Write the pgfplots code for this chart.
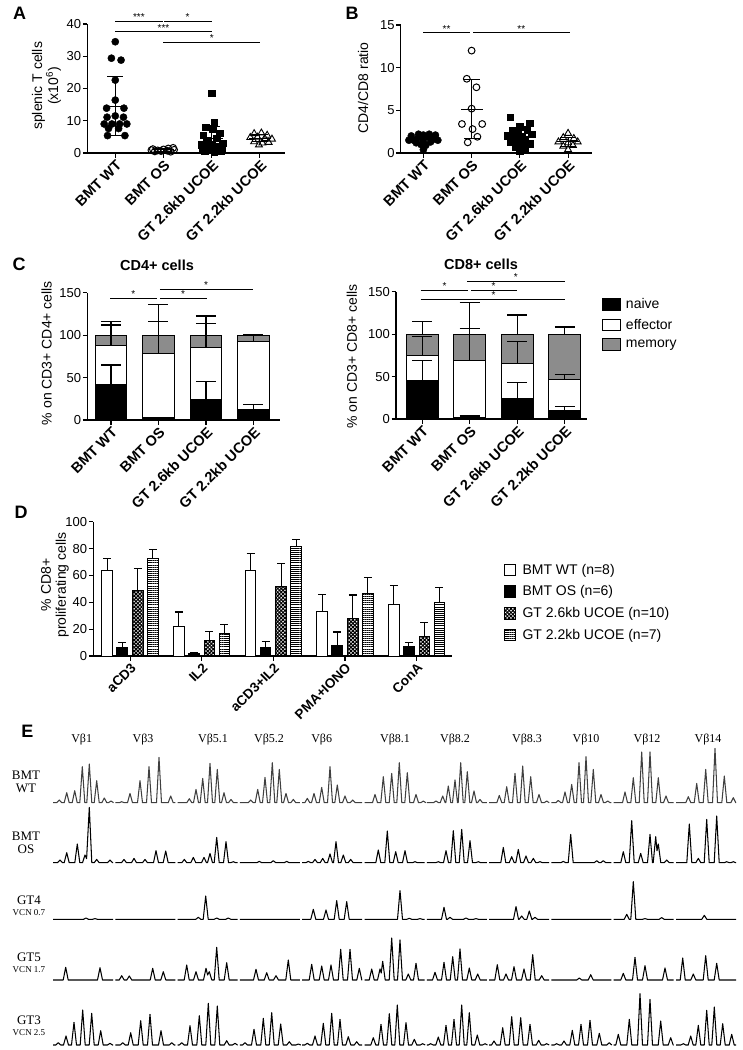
\documentclass[border=0pt]{standalone}
\usepackage{fontspec}
\setmainfont{Liberation Sans}
\newfontfamily\tnr{Liberation Serif}
\usepackage{pgfplots}
\pgfplotsset{compat=1.18}
\usetikzlibrary{patterns.meta}

\newcommand\myfs[1]{\fontsize{#1}{#1}\selectfont}
\definecolor{memgray}{gray}{0.55}

\pgfplotsset{
  gp/.style={
    scale only axis, anchor=south west, clip=false,
    axis x line*=bottom, axis y line*=left,
    axis line style={line width=1.1pt,-},
    every tick/.style={line width=1.1pt,black},
    tick align=outside, major tick length=4.5pt,
    /pgf/number format/assume math mode=true,
    yticklabel style={font=\myfs{13}, inner sep=1.5pt},
    xticklabel style={font=\bfseries\myfs{14.5}, rotate=45, anchor=north east, inner sep=1pt},
  },
  cats/.style={xtick={0,1,2,3}, xticklabels={BMT WT,BMT OS,GT 2.6kb UCOE,GT 2.2kb UCOE}},
  msd/.style={only marks, black, mark=-, mark size=11pt, mark options={line width=1.1pt},
    error bars/.cd, y dir=both, y explicit, error bar style={line width=1.1pt},
    error mark options={rotate=90, mark size=8pt, line width=1.1pt}},
  eb/.style={error bars/.cd, y dir=plus, y explicit, error bar style={line width=1.1pt, black},
    error mark options={rotate=90, mark size=#1, line width=1.1pt, black}},
  tr/.style={scale only axis, anchor=south west, hide axis, xmin=0, xmax=742, ymin=0, ymax=60,
    width=742pt, height=60pt, clip=false, unbounded coords=jump},
  trace/.style={black, line width=1.05pt, line join=round, mark=none},
}

\begin{document}
\begin{tikzpicture}
\path[use as bounding box] (0,0) rectangle (742pt,-1050pt);

% panel letters
\node[font=\bfseries\myfs{18}] at (19.5pt,-13pt) {A};
\node[font=\bfseries\myfs{18}] at (352pt,-13pt) {B};
\node[font=\bfseries\myfs{18}] at (19pt,-264pt) {C};
\node[font=\bfseries\myfs{18}] at (21pt,-512pt) {D};
\node[font=\bfseries\myfs{18}] at (27.5pt,-731pt) {E};

% ---------- A ----------
\begin{axis}[gp, cats, at={(87.3pt,-153pt)}, width=197.7pt, height=129pt,
  xmin=-0.58, xmax=3.52, ymin=0, ymax=40, ytick={0,10,20,30,40},
  ylabel={splenic T cells\\(x10\textsuperscript{6})},
  ylabel style={at={(axis description cs:-0.206,0.52)}, anchor=center, align=center, font=\fontsize{14}{14}\selectfont}]
\addplot[only marks, mark=*, mark size=3.6pt, black] coordinates {
 (0,34.5)(-0.08,29.4)(0.12,28.8)(0,22.6)(0,16.4)(-0.18,13.9)(0.18,13.9)(0,11.5)(-0.17,11.1)(0.17,11.1)
 (-0.23,9.0)(-0.07,9.0)(0.09,9.0)(0.24,9.0)(-0.14,7.6)(0.07,7.6)(-0.16,5.4)(0.2,5.4)};
\addplot[only marks, mark=o, mark size=3.4pt, black, mark options={line width=1pt}] coordinates {
 (0.78,1.2)(0.88,0.8)(1,1.1)(1.1,1.4)(1.2,1.6)(0.82,0.5)(0.95,0.6)(1.08,0.7)(1.22,1.0)(0.75,0.9)(1.15,0.4)};
\addplot[only marks, mark=square*, mark size=3.3pt, black] coordinates {
 (2,18.5)(2.05,9.5)(1.87,8)(2.02,7.5)(2.17,6.2)(1.82,5.5)(1.9,4)(2.1,4.6)(2.23,3)(1.78,2.6)(2,2.6)
 (2.15,2)(1.8,1.5)(1.95,1.1)(2.08,1.3)(2.22,1.5)(1.85,0.6)(2.05,0.3)(2.2,0.7)(1.92,2.0)};
\addplot[only marks, mark=triangle, mark size=4pt, black, mark options={line width=0.9pt}] coordinates {
 (2.88,6)(3.03,6.2)(3.15,5.5)(2.8,4.8)(2.95,4.9)(3.1,4.5)(3.25,4.3)(2.88,3.5)(3.05,3.1)(3.18,3.3)(2.98,2.5)};
\addplot[msd] coordinates {(0,14.5)+-(0,9.2) (1,1.0)+-(0,0.5) (2,4.4)+-(0,3.8) (3,4.6)+-(0,1.1)};
\draw[line width=1pt] (axis cs:0,40.9) -- (axis cs:0.98,40.9);
\draw[line width=1pt] (axis cs:1.02,40.9) -- (axis cs:2,40.9);
\draw[line width=1pt] (axis cs:0,37.6) -- (axis cs:2,37.6);
\draw[line width=1pt] (axis cs:1,34.4) -- (axis cs:3,34.4);
\node[font=\myfs{10}, anchor=south, inner sep=0.3pt] at (axis cs:0.49,40.9) {***};
\node[font=\myfs{10}, anchor=south, inner sep=0.3pt] at (axis cs:1.5,40.9) {*};
\node[font=\myfs{10}, anchor=south, inner sep=0.3pt] at (axis cs:1.0,37.6) {***};
\node[font=\myfs{10}, anchor=south, inner sep=0.3pt] at (axis cs:2.0,34.4) {*};
\end{axis}

% ---------- B ----------
\begin{axis}[gp, cats, at={(400.7pt,-153pt)}, width=191pt, height=128pt,
  xmin=-0.47, xmax=3.49, ymin=0, ymax=15, ytick={0,5,10,15},
  ylabel={CD4/CD8 ratio},
  ylabel style={at={(axis description cs:-0.197,0.51)}, anchor=center, font=\myfs{14}}]
\addplot[only marks, mark=*, mark size=3.6pt, black] coordinates {
 (-0.2,1.5)(-0.1,1.8)(0,2.1)(0.1,1.9)(0.2,1.6)(-0.15,1.2)(0,1.4)(0.15,1.3)(-0.25,2.0)(0.25,2.1)
 (-0.05,1.0)(0.05,0.9)(0,0.4)(-0.1,2.2)(0.12,2.2)(0.3,1.5)(-0.3,1.5)};
\addplot[only marks, mark=o, mark size=3.4pt, black, mark options={line width=1pt}] coordinates {
 (1,12)(0.9,8.7)(1.1,7.7)(1,5.2)(0.8,3.4)(1.22,3.4)(1.02,2.8)(1.12,1.9)(0.92,1.25)};
\addplot[only marks, mark=square*, mark size=3.3pt, black] coordinates {
 (1.8,4.2)(2.2,3.5)(2,3.1)(2.15,2.7)(1.85,2.6)(1.95,2.5)(2.25,2.2)(1.75,2.0)(2.05,1.9)(1.9,1.7)
 (2.1,1.5)(1.8,1.3)(2.2,1.1)(2,1.0)(1.9,0.7)(2.1,0.5)(2,0.3)};
\addplot[only marks, mark=triangle, mark size=4pt, black, mark options={line width=0.9pt}] coordinates {
 (3,2.3)(2.9,1.8)(3.12,1.7)(2.8,1.3)(3.2,1.3)(3,1.2)(2.9,0.8)(3.1,0.9)(3,0.4)};
\addplot[msd] coordinates {(0,1.55)+-(0,0.35) (1,5.15)+-(0,3.5) (2,1.95)+-(0,0.9) (3,1.3)+-(0,0.5)};
\draw[line width=1pt] (axis cs:0,14.1) -- (axis cs:0.97,14.1);
\draw[line width=1pt] (axis cs:1.03,14.1) -- (axis cs:3.03,14.1);
\node[font=\myfs{10}, anchor=south, inner sep=0.3pt] at (axis cs:0.48,14.1) {**};
\node[font=\myfs{10}, anchor=south, inner sep=0.3pt] at (axis cs:2.03,14.1) {**};
\end{axis}

% ---------- C left ----------
\node[font=\bfseries\myfs{14.5}] at (157pt,-265pt) {CD4+ cells};
\begin{axis}[gp, cats, at={(87.3pt,-420pt)}, width=192.7pt, height=127.3pt,
  xmin=-0.5, xmax=3.56, ymin=0, ymax=150, ytick={0,50,100,150},
  ybar, bar width=31.7pt,
  ylabel={\% on CD3+ CD4+ cells},
  ylabel style={at={(axis description cs:-0.211,0.526)}, anchor=center, font=\myfs{14}}]
\addplot[bar shift=0pt, fill=memgray, draw=black, line width=1pt, eb=10pt] coordinates {
 (0,100)+-(0,15.8) (1,100)+-(0,36) (2,100)+-(0,22.5) (3,100)+-(0,1)};
\addplot[bar shift=0pt, fill=white, draw=black, line width=1pt, eb=10pt] coordinates {
 (0,88)+-(0,24) (1,78.5)+-(0,38) (2,85.2)+-(0,28) (3,93)+-(0,8)};
\addplot[bar shift=0pt, fill=black, draw=black, line width=1pt, eb=10pt] coordinates {
 (0,42.4)+-(0,22.4) (1,2.5)+-(0,0.5) (2,24.3)+-(0,21) (3,11.8)+-(0,6)};
\draw[line width=1pt] (axis cs:-0.02,143.3) -- (axis cs:0.97,143.3);
\draw[line width=1pt] (axis cs:1.03,143.3) -- (axis cs:2.02,143.3);
\draw[line width=1pt] (axis cs:1.03,154.3) -- (axis cs:3,154.3);
\node[font=\myfs{10}, anchor=south, inner sep=0.3pt] at (axis cs:0.47,143.3) {*};
\node[font=\myfs{10}, anchor=south, inner sep=0.3pt] at (axis cs:1.52,143.3) {*};
\node[font=\myfs{10}, anchor=south, inner sep=0.3pt] at (axis cs:2.0,154.3) {*};
\end{axis}

% ---------- C right ----------
\node[font=\bfseries\myfs{14.5}] at (481pt,-264pt) {CD8+ cells};
\begin{axis}[gp, cats, at={(396pt,-419pt)}, width=190.7pt, height=127.3pt,
  xmin=-0.55, xmax=3.46, ymin=0, ymax=150, ytick={0,50,100,150},
  ybar, bar width=31.7pt,
  ylabel={\% on CD3+ CD8+ cells},
  ylabel style={at={(axis description cs:-0.232,0.49)}, anchor=center, font=\myfs{14}},
  legend image code/.code={\draw[#1, line width=1pt] (0pt,-5.8pt) rectangle (18pt,5.8pt); \path (21pt,0pt);},
  reverse legend, legend cell align=left,
  legend style={at={(1.079,0.964)}, anchor=north west, draw=none, fill=none,
    font=\myfs{14}, row sep=5pt, inner sep=0pt}]
\addplot[bar shift=0pt, fill=memgray, draw=black, line width=1pt, eb=10pt] coordinates {
 (0,100)+-(0,14.9) (1,100)+-(0,37) (2,100)+-(0,22.5) (3,100)+-(0,8.4)};
\addlegendentry{memory}
\addplot[bar shift=0pt, fill=white, draw=black, line width=1pt, eb=10pt] coordinates {
 (0,74.6)+-(0,23) (1,69.5)+-(0,37.5) (2,65.2)+-(0,26) (3,46.3)+-(0,5.9)};
\addlegendentry{effector}
\addplot[bar shift=0pt, fill=black, draw=black, line width=1pt, eb=10pt] coordinates {
 (0,44.8)+-(0,23.9) (1,2)+-(0,1.5) (2,24.7)+-(0,18) (3,9.8)+-(0,4.7)};
\addlegendentry{naive}
\draw[line width=1pt] (axis cs:-0.03,151.9) -- (axis cs:0.96,151.9);
\draw[line width=1pt] (axis cs:1.03,151.9) -- (axis cs:2,151.9);
\draw[line width=1pt] (axis cs:0.95,162.5) -- (axis cs:3,162.5);
\draw[line width=1pt] (axis cs:-0.03,141) -- (axis cs:3,141);
\node[font=\myfs{10}, anchor=south, inner sep=0.3pt] at (axis cs:0.47,151.9) {*};
\node[font=\myfs{10}, anchor=south, inner sep=0.3pt] at (axis cs:1.5,151.9) {*};
\node[font=\myfs{10}, anchor=south, inner sep=0.3pt] at (axis cs:1.97,162.5) {*};
\node[font=\myfs{10}, anchor=south, inner sep=0.3pt] at (axis cs:1.5,141) {*};
\end{axis}

% ---------- D ----------
\begin{axis}[gp, at={(93.3pt,-656pt)}, width=358.4pt, height=134.3pt,
  xmin=-0.513, xmax=4.49, ymin=0, ymax=100, ytick={0,20,40,60,80,100},
  xtick={0,1,2,3,4}, xticklabels={aCD3,IL2,aCD3+IL2,PMA+IONO,ConA},
  xticklabel style={font=\bfseries\myfs{13.5}},
  ybar, bar width=10.7pt,
  ylabel={\% CD8+\\proliferating cells},
  ylabel style={at={(axis description cs:-0.107,0.529)}, anchor=center, align=center, font=\fontsize{14}{15}\selectfont},
  legend image code/.code={\draw[#1, line width=1pt] (0pt,-5.8pt) rectangle (11.7pt,5.8pt); \path (16pt,0pt);},
  legend cell align=left,
  legend style={at={(1.144,0.70)}, anchor=north west, draw=none, fill=none,
    font=\myfs{14}, row sep=6pt, inner sep=0pt}]
\addplot[bar shift=-22.8pt, fill=white, draw=black, line width=1pt, eb=4pt] coordinates {
 (0,64)+-(0,8.7) (1,22)+-(0,10.8) (2,63.5)+-(0,12.9) (3,33.5)+-(0,12.4) (4,38.5)+-(0,13.9)};
\addlegendentry{BMT WT (n=8)}
\addplot[bar shift=-7.8pt, fill=black, draw=black, line width=1pt, eb=4pt] coordinates {
 (0,6.2)+-(0,4) (1,1.5)+-(0,1) (2,6.5)+-(0,4.5) (3,8)+-(0,9.9) (4,7.4)+-(0,2.5)};
\addlegendentry{BMT OS (n=6)}
\addplot[bar shift=7.8pt, pattern={Hatch[angle=45, distance=2.6pt, line width=1.1pt]}, draw=black, line width=1pt, eb=4pt] coordinates {
 (0,49)+-(0,16) (1,11.2)+-(0,6.8) (2,51.6)+-(0,17.6) (3,28)+-(0,17.4) (4,14.4)+-(0,10.6)};
\addlegendentry{GT 2.6kb UCOE (n=10)}
\addplot[bar shift=22.8pt, pattern={Lines[angle=0, distance=2.1pt, line width=0.7pt]}, draw=black, line width=1pt, eb=4pt] coordinates {
 (0,72.7)+-(0,6.7) (1,16.6)+-(0,6.9) (2,81.4)+-(0,5.4) (3,46.6)+-(0,11.7) (4,40.2)+-(0,10.8)};
\addlegendentry{GT 2.2kb UCOE (n=7)}
\end{axis}

% ---------- E ----------
\foreach \lx/\lt in {81.7/Vβ1,143/Vβ3,213/Vβ5.1,269/Vβ5.2,321.7/Vβ6,395/Vβ8.1,455/Vβ8.2,527/Vβ8.3,586/Vβ10,647/Vβ12,708/Vβ14}
  \node[font=\tnr\myfs{12}] at (\lx pt,-740pt) {\lt};
\node[font=\tnr\fontsize{13}{13}\selectfont, align=center] at (26pt,-782pt) {BMT\\WT};
\node[font=\tnr\fontsize{13}{13}\selectfont, align=center] at (26pt,-842.5pt) {BMT\\OS};
\node[font=\tnr\fontsize{13}{11}\selectfont, align=center] at (29pt,-906pt) {GT4\\{\myfs{9}VCN 0.7}};
\node[font=\tnr\fontsize{13}{11}\selectfont, align=center] at (29pt,-963pt) {GT5\\{\myfs{9}VCN 1.7}};
\node[font=\tnr\fontsize{13}{11}\selectfont, align=center] at (29pt,-1026pt) {GT3\\{\myfs{9}VCN 2.5}};

% BMT WT
\begin{axis}[tr, at={(0pt,-802.7pt)}]
\addplot[trace, black!75] coordinates {
(53,0) (56.8,0)(59.3,2.7)(61.8,0) (64.2,0)(66.7,10)(69.2,0) (72.2,0)(74.7,12)(77.2,0) (79.8,0)(82.3,36)(84.8,0) (86.8,0)(89.3,38.7)(91.8,0) (94.2,0)(96.7,22)(99.2,0) (101.8,0)(104.3,4.7)(106.8,0) (108.5,0)(111,1.7)(113.5,0) (114,nan)
(115.3,0) (119.2,0)(121.7,1)(124.2,0) (127.5,0)(130,9.3)(132.5,0) (137.5,0)(140,22)(142.5,0) (146.5,0)(149,36)(151.5,0) (156.5,0)(159,45.3)(161.5,0) (168.2,0)(170.7,6.7)(173.2,0) (175.3,0) (176,nan)
(177.6,0) (186.8,0)(189.3,4)(191.8,0) (193.5,0)(196,13.3)(198.5,0) (200.2,0)(202.7,24.3)(205.2,0) (207.5,0)(210,39.3)(212.5,0) (214.8,0)(217.3,33.3)(219.8,0) (221.5,0)(224,10)(226.5,0) (228.5,0)(231,3.3)(233.5,0) (237.6,0) (238.5,nan)
(239.9,0) (248.2,0)(250.7,2.7)(253.2,0) (255.2,0)(257.7,13.3)(260.2,0) (262.5,0)(265,25.3)(267.5,0) (269.8,0)(272.3,40)(274.8,0) (276.8,0)(279.3,33.3)(281.8,0) (283.5,0)(286,9.3)(288.5,0) (290.8,0)(293.3,3.3)(295.8,0) (299.9,0) (301,nan)
(302.2,0) (304.8,0)(307.3,4.3)(309.8,0) (311.5,0)(314,9.3)(316.5,0) (319.2,0)(321.7,15.3)(324.2,0) (327.5,0)(330,36)(332.5,0) (334.8,0)(337.3,17.7)(339.8,0) (342.5,0)(345,6.7)(347.5,0) (350.2,0)(352.7,2.7)(355.2,0) (362.2,0) (363,nan)
(364.5,0) (372.5,0)(375,8.3)(377.5,0) (380.8,0)(383.3,26)(385.8,0) (389.2,0)(391.7,29.3)(394.2,0) (396.8,0)(399.3,40)(401.8,0) (404.8,0)(407.3,30)(409.8,0) (413.5,0)(416,8.3)(418.5,0) (420.8,0)(423.3,1.7)(425.8,0) (426.2,nan)
(426.8,0) (433.5,0)(436,1.7)(438.5,0) (440.2,0)(442.7,6.7)(445.2,0) (445.8,0)(448.3,16.7)(450.8,0) (452.5,0)(455,22.7)(457.5,0) (458.2,0)(460.7,40)(463.2,0) (464.8,0)(467.3,31)(469.8,0) (471.5,0)(474,11.7)(476.5,0) (477.5,0)(480,3.3)(482.5,0) (486.8,0) (487.5,nan)
(489.1,0) (496.8,0)(499.3,7.3)(501.8,0) (504.2,0)(506.7,16)(509.2,0) (512.5,0)(515,29.3)(517.5,0) (520.2,0)(522.7,36.7)(525.2,0) (528.2,0)(530.7,26)(533.2,0) (536.5,0)(539,8.3)(541.5,0) (544.2,0)(546.7,1.7)(549.2,0) (550,nan)
(551.4,0) (555.8,0)(558.3,2.3)(560.8,0) (562.5,0)(565,10.7)(567.5,0) (569.2,0)(571.7,18.3)(574.2,0) (576.5,0)(579,40)(581.5,0) (583.5,0)(586,46)(588.5,0) (590.8,0)(593.3,33.3)(595.8,0) (598.5,0)(601,8.3)(603.5,0) (605.2,0)(607.7,1.7)(610.2,0) (611.4,0) (612.5,nan)
(613.7,0) (622.5,0)(625,10.7)(627.5,0) (630.8,0)(633.3,25)(635.8,0) (639.2,0)(641.7,50.7)(644.2,0) (647.5,0)(650,50.7)(652.5,0) (655.8,0)(658.3,25)(660.8,0) (663.5,0)(666,6.7)(668.5,0) (673.7,0) (675,nan)
(676,0) (685.8,0)(688.3,6)(690.8,0) (694.2,0)(696.7,19.3)(699.2,0) (703.2,0)(705.7,33.3)(708.2,0) (712.5,0)(715,54.3)(717.5,0) (721.8,0)(724.3,26.7)(726.8,0) (730.8,0)(733.3,5)(735.8,0) (736,0)
};
\end{axis}

% BMT OS
\begin{axis}[tr, at={(0pt,-862.7pt)}]
\addplot[trace] coordinates {
(53,0) (57.5,0)(60,2.7)(62.5,0) (64.2,0)(66.7,10)(69.2,0) (74.8,0)(77.3,18.7)(79.8,0) (82.5,0)(85,7.7)(86.6,4)(89.3,55.3)(91.8,0) (94.2,0)(96.7,3.3)(99.2,0) (107.5,0)(110,2.7)(112.5,0) (113,0) (114,nan)
(115.3,0) (121.5,0)(124,3.3)(126.5,0) (131.5,0)(134,4.3)(136.5,0) (142.5,0)(145,3.3)(147.5,0) (153.5,0)(156,12)(158.5,0) (163.2,0)(165.7,11.7)(168.2,0) (175.3,0) (176,nan)
(177.6,0) (181.8,0)(184.3,3.3)(186.8,0) (190.8,0)(193.3,5.3)(195.8,0) (201.5,0)(204,5.3)(206.5,0) (207.5,0)(210,9.3)(212.5,0) (214.2,0)(216.7,25.3)(219.2,0) (223.5,0)(226,21)(228.5,0) (230.8,0)(233.3,1)(235.8,0) (237.6,0) (238.5,nan)
(239.9,0) (256.8,0)(259.3,1.3)(261.8,0) (270.8,0)(273.3,2)(275.8,0) (284.2,0)(286.7,1.3)(289.2,0) (299.9,0) (301,nan)
(302.2,0) (305.8,0)(308.3,1.3)(310.8,0) (312.5,0)(315,3.3)(317.5,0) (320.2,0)(322.7,4.3)(325.2,0) (327.5,0)(330,8.7)(332.5,0) (333.5,0)(336,21)(338.5,0) (340.8,0)(343.3,7.7)(345.8,0) (348.2,0)(350.7,3.3)(353.2,0) (362.2,0) (363,nan)
(364.5,0) (375.8,0)(378.3,12.7)(380.8,0) (384.8,0)(387.3,31.7)(389.8,0) (393.2,0)(395.7,11)(398.2,0) (402.5,0)(405,12)(407.5,0) (412.5,0)(415,1)(417.5,0) (424.5,0) (425.5,nan)
(426.8,0) (435.8,0)(438.3,1)(440.8,0) (443.5,0)(446,12)(448.5,0) (450.8,0)(453.3,32)(455.8,0) (459.2,0)(461.7,33.3)(464.2,0) (467.5,0)(470,22)(472.5,0) (475.8,0)(478.3,1)(480.8,0) (486.8,0) (487.5,nan)
(489.1,0) (500.8,0)(503.3,15.3)(505.8,0) (509.2,0)(511.7,6)(514.2,0) (515.8,0)(518.3,13.3)(520.8,0) (523.5,0)(526,6.7)(528.5,0) (530.8,0)(533.3,4.3)(535.8,0) (537.5,0)(540,1)(542.5,0) (549.1,0) (550,nan)
(551.4,0) (560.8,0)(563.3,1.3)(565.8,0) (568.2,0)(570.7,28.3)(573.2,0) (594.2,0)(596.7,2)(599.2,0) (600.8,0)(603.3,2)(605.8,0) (611.4,0) (612.5,nan)
(613.7,0) (620.8,0)(623.3,11)(625.8,0) (629.2,0)(631.7,42)(634.2,0) (638.2,0)(640.7,9.3)(643.2,0) (647.5,0)(650,28.3)(652.5,0) (653.2,0)(655.7,26)(657,12)(658.3,18.7)(660.8,0) (664.2,0)(666.7,2.7)(669.2,0) (673.7,0) (675,nan)
(676,0) (686.8,0)(689.3,38.7)(691.8,0) (695.8,0)(698.3,4.3)(700.8,0) (704.2,0)(706.7,43.3)(709.2,0) (714.2,0)(716.7,46.7)(719.2,0) (724.2,0)(726.7,1)(729.2,0) (730.8,0)(733.3,1)(735.8,0) (736,0)
};
\end{axis}

% GT4
\begin{axis}[tr, at={(0pt,-919.3pt)}]
\addplot[trace] coordinates {
(53,0) (83.5,0)(86,1.3)(88.5,0) (92.5,0)(95,0.7)(97.5,0) (113,0) (114,nan)
(115.3,0) (175.3,0) (176,nan)
(177.6,0) (195.8,0)(198.3,2)(200.8,0) (203.2,0)(205.7,23.3)(208.2,0) (214.2,0)(216.7,1.3)(219.2,0) (225.8,0)(228.3,1.3)(230.8,0) (237.6,0) (238.5,nan)
(239.9,0) (299.9,0) (301,nan)
(302.2,0) (310.8,0)(313.3,10)(315.8,0) (323.5,0)(326,9.3)(328.5,0) (334.2,0)(336.7,18.7)(339.2,0) (344.2,0)(346.7,17.7)(349.2,0) (362.2,0) (363,nan)
(364.5,0) (397.5,0)(400,28.7)(402.5,0) (406.8,0)(409.3,1)(411.8,0) (417.5,0)(420,0.7)(422.5,0) (424.5,0) (425.5,nan)
(426.8,0) (441.5,0)(444,12)(446.5,0) (447.5,0)(450,2)(452.5,0) (463.5,0)(466,1.3)(468.5,0) (473.5,0)(476,0.7)(478.5,0) (486.8,0) (487.5,nan)
(489.1,0) (513.5,0)(516,12.7)(518.5,0) (519.2,0)(521.7,3.3)(524.2,0) (526.8,0)(529.3,8.3)(531.8,0) (532.5,0)(535,2)(537.5,0) (549.1,0) (550,nan)
(551.4,0) (611.4,0) (612.5,nan)
(613.7,0) (624.2,0)(626.7,5)(629.2,0) (630.8,0)(633.3,37.7)(635.8,0) (642.5,0)(645,0.7)(647.5,0) (659.2,0)(661.7,1.7)(664.2,0) (673.7,0) (675,nan)
(676,0) (701.8,0)(704.3,4)(706.8,0) (736,0)
};
\end{axis}

% GT5
\begin{axis}[tr, at={(0pt,-980pt)}]
\addplot[trace] coordinates {
(53,0) (63.2,0)(65.7,12.7)(68.2,0) (97.5,0)(100,12.3)(102.5,0) (113,0) (114,nan)
(115.3,0) (119.2,0)(121.7,4.3)(124.2,0) (126.8,0)(129.3,4)(131.8,0) (150.2,0)(152.7,11.7)(155.2,0) (160.8,0)(163.3,8.3)(165.8,0) (175.3,0) (176,nan)
(177.6,0) (184.2,0)(186.7,15)(189.2,0) (193.5,0)(196,8.3)(198.5,0) (203.5,0)(206,11.7)(207.6,5)(209.3,8.3)(211.8,0) (214.2,0)(216.7,32.7)(219.2,0) (224.2,0)(226.7,17.3)(229.2,0) (237.6,0) (238.5,nan)
(239.9,0) (253.5,0)(256,10.7)(258.5,0) (264.2,0)(266.7,7.3)(269.2,0) (273.5,0)(276,4.3)(278.5,0) (285.8,0)(288.3,20)(290.8,0) (299.9,0) (301,nan)
(302.2,0) (309.2,0)(311.7,15.7)(314.2,0) (319.2,0)(321.7,14)(324.2,0) (328.5,0)(331,15)(333.5,0) (338.2,0)(340.7,30.7)(343.2,0) (347.5,0)(350,30.7)(352.5,0) (356.8,0)(359.3,11.7)(361.8,0) (362.2,0) (363,nan)
(364.5,0) (369.2,0)(371.7,11)(374.2,0) (377.5,0)(380,11)(381.2,7)(382.7,18.7)(385.2,0) (389.2,0)(391.7,42)(394.2,0) (397.5,0)(400,40)(402.5,0) (405.8,0)(408.3,6)(410.8,0) (413.5,0)(416,16.7)(418.5,0) (424.5,0) (425.5,nan)
(426.8,0) (432.5,0)(435,7.7)(437.5,0) (441.5,0)(444,17.7)(446.5,0) (450.2,0)(452.7,23.3)(455.2,0) (457.5,0)(460,31)(462.5,0) (466.8,0)(469.3,12)(471.8,0) (475.2,0)(477.7,6)(480.2,0) (486.8,0) (487.5,nan)
(489.1,0) (494.8,0)(497.3,15.3)(499.8,0) (503.5,0)(506,6)(508.5,0) (511.5,0)(514,13.3)(516.5,0) (521.5,0)(524,11)(526.5,0) (530.2,0)(532.7,25.3)(535.2,0) (539.2,0)(541.7,4.3)(544.2,0) (549.1,0) (550,nan)
(551.4,0) (576.8,0)(579.3,2)(581.8,0) (588.2,0)(590.7,5.3)(593.2,0) (611.4,0) (612.5,nan)
(613.7,0) (620.8,0)(623.3,6.7)(625.8,0) (632.5,0)(635,22.7)(637.5,0) (642.5,0)(645,14.3)(647.5,0) (662.5,0)(665,12)(667.5,0) (673.7,0) (675,nan)
(676,0) (680.2,0)(682.7,22)(685.2,0) (690.8,0)(693.3,6)(695.8,0) (703.2,0)(705.7,24.3)(708.2,0) (714.2,0)(716.7,16.7)(719.2,0) (736,0)
};
\end{axis}

% GT3
\begin{axis}[tr, at={(0pt,-1045pt)}]
\addplot[trace] coordinates {
(53,0) (55.8,0)(58.3,2.3)(60.8,0) (63.5,0)(66,9)(68.5,0) (71.5,0)(74,22.7)(76.5,0) (80.2,0)(82.7,35)(85.2,0) (89.2,0)(91.7,31.7)(94.2,0) (98.2,0)(100.7,14.3)(103.2,0) (107.5,0)(110,1.7)(112.5,0) (113,0) (114,nan)
(115.3,0) (120.2,0)(122.7,2.3)(125.2,0) (128.2,0)(130.7,12.3)(133.2,0) (138.2,0)(140.7,24.3)(143.2,0) (147.5,0)(150,30.7)(152.5,0) (158.5,0)(161,14.3)(163.5,0) (169.2,0)(171.7,2.3)(174.2,0) (175.3,0) (176,nan)
(177.6,0) (179.2,0)(181.7,2.3)(184.2,0) (187.5,0)(190,19.3)(192.5,0) (196.8,0)(199.3,29.3)(201.8,0) (205.8,0)(208.3,41.7)(210.8,0) (214.8,0)(217.3,39)(219.8,0) (224.2,0)(226.7,4.3)(229.2,0) (232.5,0)(235,1.7)(237.5,0) (237.6,0) (238.5,nan)
(239.9,0) (242.5,0)(245,2.3)(247.5,0) (251.5,0)(254,15.7)(256.5,0) (260.8,0)(263.3,26.7)(265.8,0) (269.2,0)(271.7,32.3)(274.2,0) (278.2,0)(280.7,21)(283.2,0) (286.8,0)(289.3,3.3)(291.8,0) (295.8,0)(298.3,1)(300.8,0) (301.2,nan)
(302.2,0) (304.8,0)(307.3,1.7)(309.8,0) (312.5,0)(315,9)(317.5,0) (320.8,0)(323.3,21.7)(325.8,0) (329.2,0)(331.7,31.7)(334.2,0) (337.5,0)(340,25.7)(342.5,0) (345.8,0)(348.3,8.3)(350.8,0) (354.2,0)(356.7,3.3)(359.2,0) (362.2,0) (363,nan)
(364.5,0) (370.8,0)(373.3,7.3)(375.8,0) (378.5,0)(381,20.7)(383.5,0) (386.8,0)(389.3,31.3)(391.8,0) (394.8,0)(397.3,40)(399.8,0) (403.5,0)(406,22.3)(408.5,0) (411.8,0)(414.3,5.7)(416.8,0) (420.2,0)(422.7,1.3)(425.2,0) (425.6,nan)
(426.8,0) (428.2,0)(430.7,1.3)(433.2,0) (435.8,0)(438.3,8)(440.8,0) (443.5,0)(446,19.7)(448.5,0) (451.5,0)(454,25.7)(456.5,0) (459.2,0)(461.7,40)(464.2,0) (466.8,0)(469.3,32.3)(471.8,0) (474.8,0)(477.3,10)(479.8,0) (482.5,0)(485,1.3)(487.5,0) (488,nan)
(489.1,0) (491.5,0)(494,4)(496.5,0) (500.2,0)(502.7,17.3)(505.2,0) (509.2,0)(511.7,28.3)(514.2,0) (518.2,0)(520.7,27.3)(523.2,0) (527.5,0)(530,20.7)(532.5,0) (536.2,0)(538.7,4.7)(541.2,0) (544.2,0)(546.7,1.3)(549.2,0) (550,nan)
(551.4,0) (554.2,0)(556.7,1.3)(559.2,0) (561.5,0)(564,4)(566.5,0) (569.8,0)(572.3,14.7)(574.8,0) (578.5,0)(581,20.7)(583.5,0) (587.5,0)(590,24.7)(592.5,0) (596.8,0)(599.3,11.7)(601.8,0) (606.8,0)(609.3,2.3)(611.8,0) (612.5,nan)
(613.7,0) (615.8,0)(618.3,10.7)(620.8,0) (626.8,0)(629.3,25.7)(631.8,0) (637.5,0)(640,51.3)(642.5,0) (647.5,0)(650,45.7)(652.5,0) (658.2,0)(660.7,24)(663.2,0) (668.2,0)(670.7,7.3)(673.2,0) (673.7,0) (675,nan)
(676,0) (680.8,0)(683.3,1.3)(685.8,0) (688.2,0)(690.7,9)(693.2,0) (695.8,0)(698.3,19.7)(700.8,0) (704.2,0)(706.7,34.7)(709.2,0) (711.8,0)(714.3,38)(716.8,0) (720.2,0)(722.7,21.3)(725.2,0) (729.2,0)(731.7,10.7)(734.2,0) (736,0)
};
\end{axis}

\end{tikzpicture}
\end{document}
